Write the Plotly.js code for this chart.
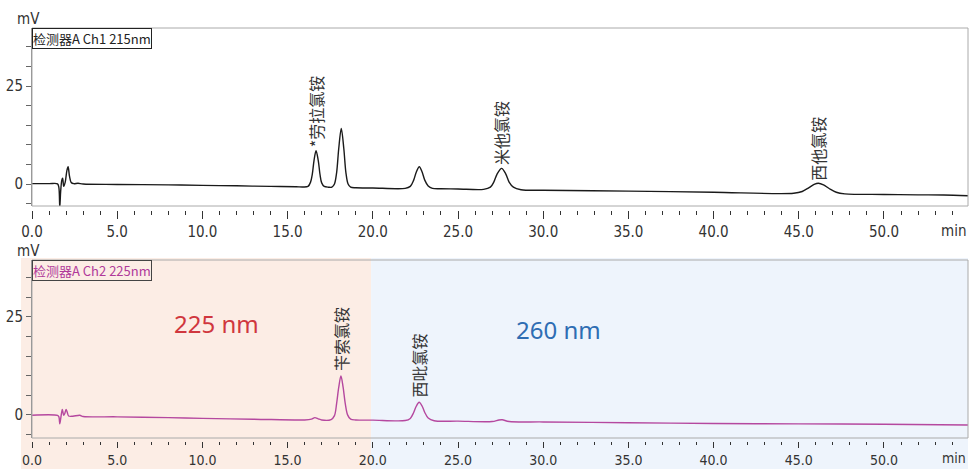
<!DOCTYPE html>
<html>
<head>
<meta charset="utf-8">
<script src="https://cdn.plot.ly/plotly-3.0.1.min.js"></script>
<style>html,body{margin:0;padding:0;background:#fff;}#chart{width:971px;height:469px;}</style>
</head>
<body>
<div id="chart"></div>
<script>
// Channel 1 (215 nm) chromatogram, time in min, signal in mV
const ch1Time = [0, 1.0, 1.5, 1.58, 1.63, 1.68, 1.75, 1.8, 1.86, 1.95, 2.05, 2.12, 2.2, 2.3, 2.45, 2.7, 3.0, 5.0, 8.0, 10.0, 12.0, 14.0, 15.5,
  15.9, 16.2, 16.35, 16.45, 16.55, 16.67, 16.8, 16.9, 17.0, 17.15, 17.4,
  17.6, 17.75, 17.88, 18.0, 18.15, 18.3, 18.42, 18.55, 18.7, 19.0, 20.0,
  21.9, 22.2, 22.4, 22.55, 22.73, 22.9, 23.05, 23.25, 23.5, 24.0, 25.0,
  26.5, 26.9, 27.1, 27.3, 27.56, 27.8, 28.0, 28.25, 28.7, 30.0, 35.0, 40.0,
  44.7, 45.2, 45.6, 45.9, 46.15, 46.45, 46.8, 47.2, 47.7, 50.0, 52.0, 53.5, 54.93];
const ch1Signal = [0.1, 0.1, 0.05, -1.0, -6.0, -2.0, 1.0, 1.5, -0.6, 0.5, 3.5, 4.4, 2.0, 0.4, 0.1, 0.2, 0.0, -0.1, -0.2, -0.35, -0.45, -0.6, -0.7,
  -0.75, -0.6, 0.5, 2.5, 6.0, 8.5, 6.0, 2.5, 0.3, -0.6, -0.8,
  -0.8, 0.0, 3.0, 9.0, 14.2, 9.0, 3.0, 0.0, -0.8, -0.95, -1.0,
  -1.1, -0.6, 1.0, 3.0, 4.4, 3.0, 1.0, -0.5, -1.1, -1.2, -1.25,
  -1.35, -0.8, 0.5, 2.6, 4.0, 2.6, 0.5, -0.8, -1.45, -1.6, -1.8, -2.1,
  -2.35, -1.9, -0.9, -0.1, 0.2, -0.2, -1.2, -2.1, -2.5, -2.65, -2.75, -2.8, -3.0];

// Channel 2 (225 nm) chromatogram
const ch2Time = [0, 1.5, 1.58, 1.63, 1.7, 1.78, 1.86, 1.92, 2.0, 2.06, 2.15, 2.4, 2.8, 3.0, 5.0, 8.0, 10.0, 13.0, 16.0,
  16.4, 16.6, 16.8, 17.0, 17.55, 17.75, 17.88, 18.0, 18.13, 18.26, 18.38, 18.52, 18.7, 19.0, 20.0,
  21.9, 22.2, 22.4, 22.55, 22.72, 22.9, 23.05, 23.25, 23.6, 25.0,
  27.0, 27.4, 27.6, 28.0, 30.0, 35.0, 40.0, 45.0, 50.0, 54.93];
const ch2Signal = [-0.1, -0.15, -0.5, -2.3, -0.5, 1.4, -0.1, 0.3, 1.4, 0.8, -0.3, -0.35, -0.1, -0.4, -0.5, -0.7, -0.9, -1.1, -1.3,
  -1.1, -0.7, -1.0, -1.3, -1.2, -0.2, 3.0, 7.0, 9.9, 7.0, 3.0, 0.0, -1.1, -1.3, -1.35,
  -1.45, -0.9, 0.6, 2.2, 3.2, 2.2, 0.6, -0.8, -1.5, -1.6,
  -1.7, -1.3, -1.25, -1.7, -1.8, -2.0, -2.2, -2.3, -2.4, -2.6];

// Peak labels
const ch1PeakNames = ['*劳拉氯铵', '米他氯铵', '西他氯铵'];
const ch1PeakTimes = [16.67, 27.56, 46.15];
const ch1PeakTops = [8.5, 4.0, 0.2];
const ch2PeakNames = ['苄索氯铵', '西吡氯铵'];
const ch2PeakTimes = [18.13, 22.72];
const ch2PeakTops = [9.9, 3.2];

const xRange = [0, 54.93];
const ch1Range = [-5.6, 39.8];
const ch2Range = [-5.9, 39.5];
const switchTime = 19.9;

const FONTFAM = '"Liberation Sans Narrow", "Arial Narrow", "DejaVu Sans Condensed", "Liberation Sans", sans-serif';
const TICKFONT = {family: FONTFAM, size: 15, color: '#333'};
const TICKFONT_B = {family: FONTFAM, size: 14, color: '#333'};
const CJK = '"Noto Sans CJK SC", "Liberation Sans", sans-serif';

const traces = [
  {x: ch1Time, y: ch1Signal, xaxis: 'x', yaxis: 'y', mode: 'lines', line: {color: '#1a1a1a', width: 1.4, shape: 'spline', smoothing: 0.9}, hoverinfo: 'skip'},
  {x: ch2Time, y: ch2Signal, xaxis: 'x2', yaxis: 'y2', mode: 'lines', line: {color: '#b5489f', width: 1.4, shape: 'spline', smoothing: 0.9}, hoverinfo: 'skip'}
];

const H = 413; // plot height in px
const pY = px => (441 - px) / H;

const xCommon = {
  range: xRange, showgrid: false, zeroline: false, showline: false,
  ticks: 'outside', ticklen: 8, tickwidth: 1, tickcolor: '#333', dtick: 5, tick0: 0,
  tickformat: '.1f', tickfont: TICKFONT,
  minor: {dtick: 1, ticks: 'outside', ticklen: 4, tickcolor: '#333', showgrid: false}
};
const yCommon = {
  showgrid: false, zeroline: false, showline: true, linecolor: '#888', linewidth: 1,
  ticks: 'outside', ticklen: 5, tickcolor: '#666', dtick: 25, tick0: 0, tickfont: TICKFONT,
  minor: {dtick: 5, ticks: 'outside', ticklen: 5, tickcolor: '#666', showgrid: false}
};

const annotations = [];
ch1PeakNames.forEach((n, i) => annotations.push({
  x: ch1PeakTimes[i], y: ch1PeakTops[i], xref: 'x', yref: 'y', text: n, showarrow: false,
  textangle: -90, xanchor: 'center', yanchor: 'bottom', yshift: 1,
  font: {family: CJK, size: 16, color: '#333'}
}));
ch2PeakNames.forEach((n, i) => annotations.push({
  x: ch2PeakTimes[i], y: ch2PeakTops[i], xref: 'x2', yref: 'y2', text: n, showarrow: false,
  textangle: -90, xanchor: 'center', yanchor: 'bottom', yshift: 3,
  font: {family: CJK, size: 16, color: '#333'}
}));
annotations.push(
  {xref: 'paper', yref: 'paper', x: 0, y: 1, xanchor: 'left', yanchor: 'top', text: '检测器A Ch1 215nm', showarrow: false,
   bgcolor: '#fff', bordercolor: '#222', borderwidth: 1, borderpad: 0,
   font: {family: CJK, size: 13, color: '#222'}},
  {xref: 'paper', yref: 'paper', x: 0, y: pY(260), xanchor: 'left', yanchor: 'top', text: '检测器A Ch2 225nm', showarrow: false,
   bordercolor: '#444', borderwidth: 1, borderpad: 0,
   font: {family: CJK, size: 13, color: '#b0399a'}},
  {xref: 'paper', yref: 'paper', x: -0.004, y: pY(19), xanchor: 'center', yanchor: 'middle', text: 'mV', showarrow: false, font: TICKFONT},
  {xref: 'paper', yref: 'paper', x: -0.004, y: pY(251), xanchor: 'center', yanchor: 'middle', text: 'mV', showarrow: false, font: TICKFONT},
  {xref: 'paper', yref: 'paper', x: 1, y: pY(231), xanchor: 'right', yanchor: 'middle', text: 'min', showarrow: false, font: TICKFONT},
  {xref: 'paper', yref: 'paper', x: 1, y: pY(458), xanchor: 'right', yanchor: 'middle', text: 'min', showarrow: false, font: TICKFONT_B},
  {xref: 'x2', yref: 'paper', x: 10.8, y: pY(324), xanchor: 'center', yanchor: 'middle', text: '225 nm', showarrow: false,
   font: {family: '"Noto Sans", "Open Sans", sans-serif', size: 24, color: '#d0373e'}},
  {xref: 'x2', yref: 'paper', x: 30.9, y: pY(329), xanchor: 'center', yanchor: 'middle', text: '260 nm', showarrow: false,
   font: {family: '"Noto Sans", "Open Sans", sans-serif', size: 24, color: '#2e6db3'}}
);

const shapes = [
  {type: 'rect', xref: 'paper', yref: 'paper', x0: -0.0118, x1: 0, y0: pY(469), y1: pY(258), fillcolor: '#fcede5', line: {width: 0}, layer: 'below'},
  {type: 'rect', xref: 'x2', yref: 'paper', x0: 0, x1: switchTime, y0: pY(469), y1: pY(258), fillcolor: '#fcede5', line: {width: 0}, layer: 'below'},
  {type: 'rect', xref: 'x2', yref: 'paper', x0: switchTime, x1: 56, y0: pY(469), y1: pY(258), fillcolor: '#eef4fc', line: {width: 0}, layer: 'below'},
  {type: 'rect', xref: 'paper', yref: 'paper', x0: 0, x1: 1, y0: pY(206), y1: 1, line: {color: '#aaa', width: 1}, layer: 'above'},
  {type: 'rect', xref: 'paper', yref: 'paper', x0: 0, x1: 1, y0: pY(438), y1: pY(260), line: {color: '#aaa', width: 1}, layer: 'above'}
];

const layout = {
  width: 971, height: 469,
  margin: {l: 32, r: 3, t: 28, b: 28},
  paper_bgcolor: '#fff', plot_bgcolor: 'rgba(0,0,0,0)',
  showlegend: false,
  xaxis: Object.assign({}, xCommon, {anchor: 'free', position: pY(210), domain: [0, 1]}),
  xaxis2: Object.assign({}, xCommon, {anchor: 'free', position: 0, domain: [0, 1], ticklen: 6, tickfont: TICKFONT_B,
    minor: {dtick: 1, ticks: 'outside', ticklen: 3, tickcolor: '#333', showgrid: false}}),
  yaxis: Object.assign({}, yCommon, {range: ch1Range, domain: [pY(206), 1], anchor: 'x'}),
  yaxis2: Object.assign({}, yCommon, {range: ch2Range, domain: [pY(438), pY(260)], anchor: 'x2'}),
  annotations: annotations,
  shapes: shapes
};

Plotly.newPlot('chart', traces, layout, {displayModeBar: false, staticPlot: true});
</script>
</body>
</html>
